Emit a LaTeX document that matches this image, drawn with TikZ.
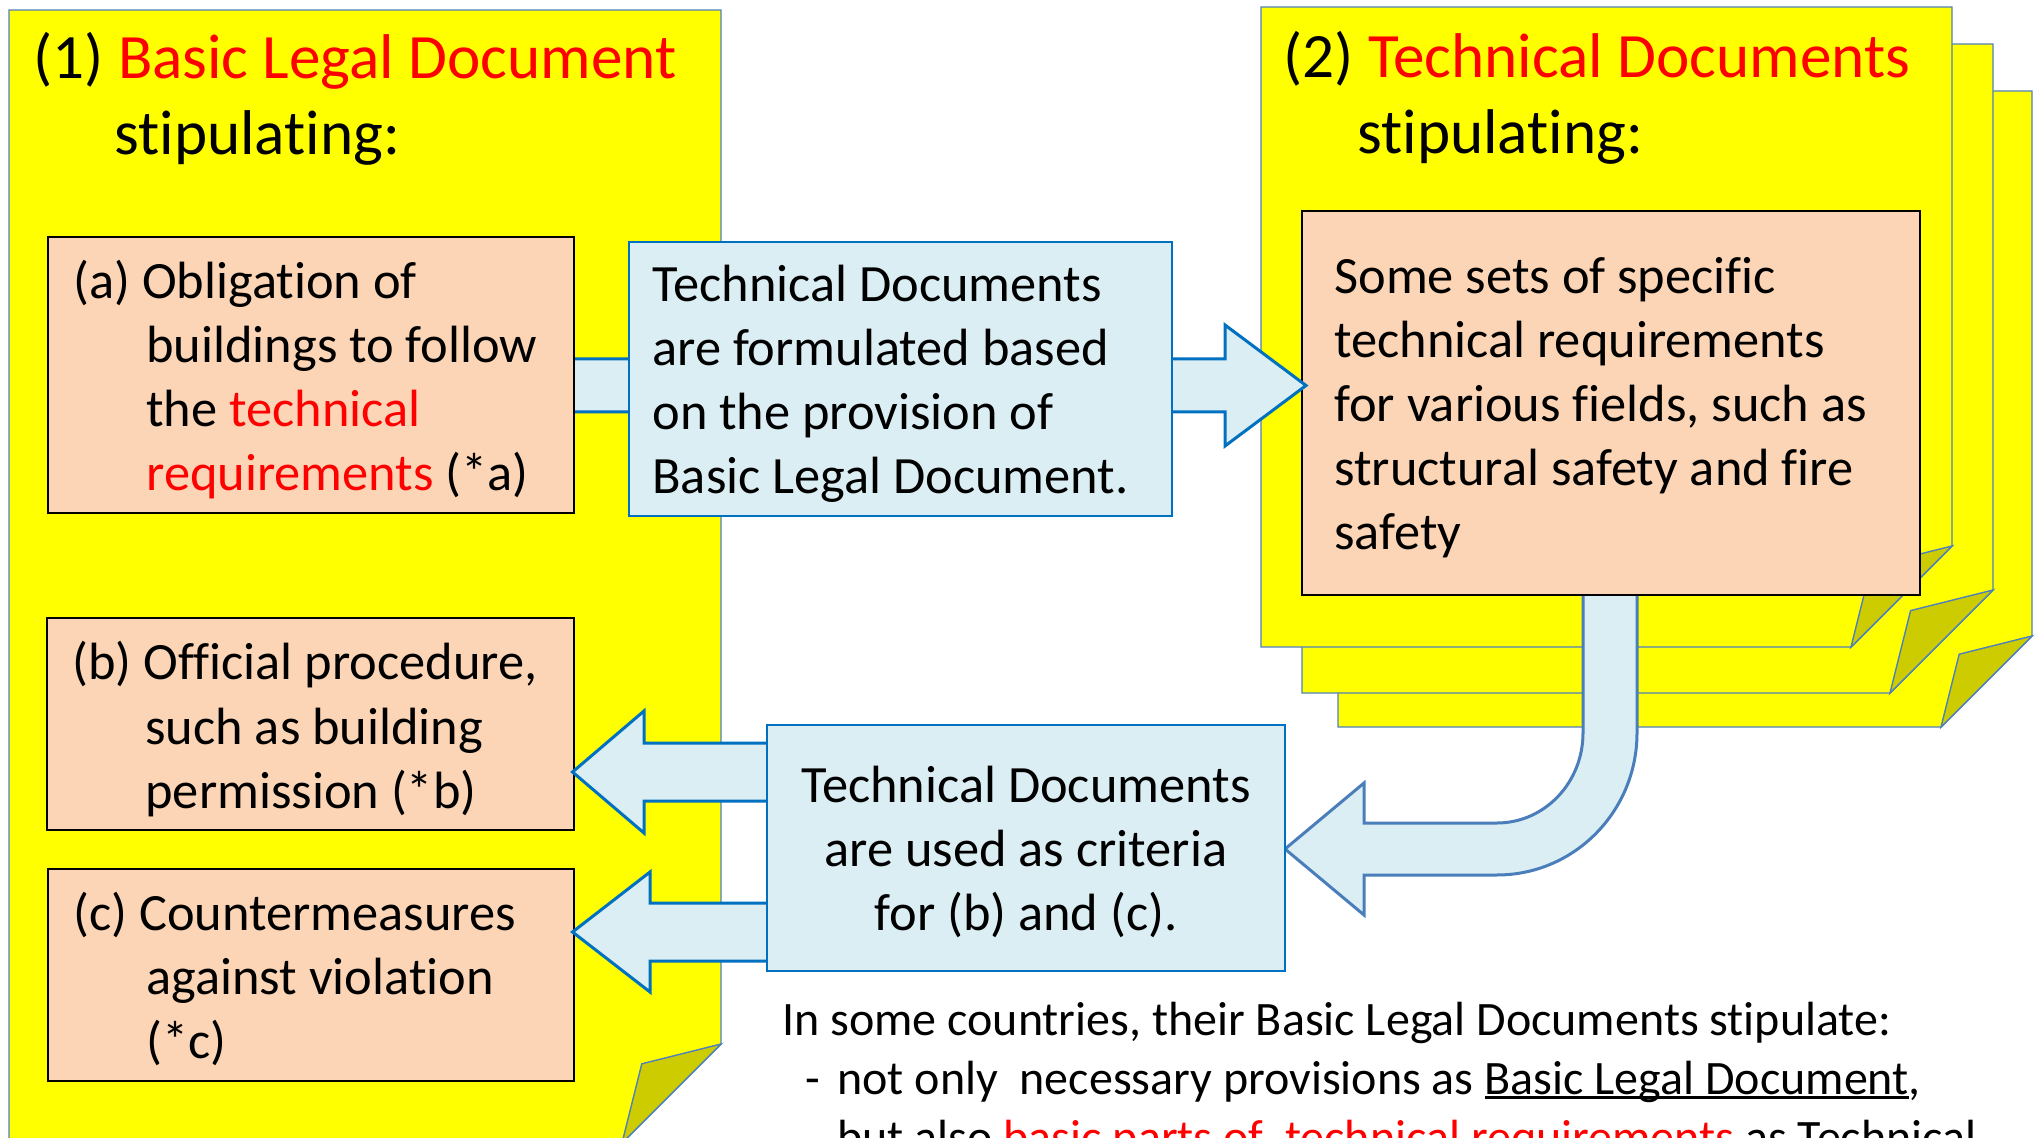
\documentclass[tikz,border=0pt]{standalone}
\usepackage{fontspec}
\setmainfont{Carlito}[Ligatures=NoCommon]
\usetikzlibrary{fit,calc}
\definecolor{docyellow}{HTML}{FFFF00}
\definecolor{docline}{HTML}{4F81BD}
\definecolor{foldcol}{HTML}{CCCC00}
\definecolor{peach}{HTML}{FBD5B5}
\definecolor{lblue}{HTML}{DBEEF4}
\definecolor{bborder}{HTML}{0070C0}
\definecolor{cborder}{HTML}{4A7EBB}
\newcommand\titlefont{\fontsize{31.6}{38}\selectfont}
\newcommand\boxfont{\fontsize{26.2}{32}\selectfont}
\newcommand\notefont{\fontsize{24}{29.5}\selectfont}
\newcommand\myul[1]{\setbox0\hbox{#1}\rlap{\rule[-2.6pt]{\wd0}{1.5pt}}#1}
\newcommand\foldpage[5]{%
  \filldraw[page] (#1,#2) -- (#3,#2) -- (#3,#4-#5) -- (#3-#5,#4) -- (#1,#4) -- cycle;
  \filldraw[fold] (#3,#4-#5) -- (#3-0.8*#5,#4-0.8*#5) -- (#3-#5,#4) -- cycle;}
\newcommand\blockarrow[6]{%
  \filldraw[barrow] (#1,#4-#5) -- (#2,#4-#5) -- (#2,#4-#6) -- (#3,#4) -- (#2,#4+#6) -- (#2,#4+#5) -- (#1,#4+#5) -- cycle;}
\tikzset{
  page/.style={fill=docyellow, draw=docline, line width=0.7pt, line join=miter},
  fold/.style={fill=foldcol, draw=docline, line width=0.7pt, line join=miter},
  obox/.style={fill=peach, draw=black, line width=1.3pt, inner sep=0pt},
  bbox/.style={fill=lblue, draw=bborder, line width=1.3pt, inner sep=0pt},
  barrow/.style={fill=lblue, draw=bborder, line width=1.5pt, line join=miter},
  carrow/.style={fill=lblue, draw=cborder, line width=1.5pt, line join=miter},
  tline/.style={anchor=base west, inner sep=0pt, font=\boxfont},
  cline/.style={anchor=base, inner sep=0pt, font=\boxfont},
  ttl/.style={anchor=base west, inner sep=0pt, font=\titlefont},
  note/.style={anchor=base west, inner sep=0pt, font=\notefont},
}
\begin{document}
\begin{tikzpicture}[x=0.5pt,y=-0.5pt]
\useasboundingbox (0,0) rectangle (2040,1138);
\clip (0,0) rectangle (2040,1138);
\fill[white] (0,0) rectangle (2040,1138);

% pages
\foldpage{9}{10}{721}{1143}{99}
\foldpage{1338}{91}{2032}{727}{91}
\foldpage{1302}{44}{1993}{693}{103}
\foldpage{1261}{7}{1952}{647}{101}

% curved arrow from technical requirements to criteria box
\filldraw[carrow] (1583,590) -- (1583,733) .. controls (1583,782.7) and (1544.5,823) .. (1497,823)
  -- (1364,823) -- (1364,783) -- (1285,849) -- (1364,915) -- (1364,875) -- (1497,875)
  .. controls (1574.3,875) and (1637,811.4) .. (1637,733) -- (1637,590) -- cycle;

% (2) contents box
\node[obox, fit={(1302,211) (1920,595)}] (spec) {};
\node[tline] (s1) at (1334,294) {Some sets of specific};
\node[tline] (s2) at (1334,358) {technical requirements};
\node[tline] (s3) at (1334,422) {for various fields, such as};
\node[tline] (s4) at (1334,486) {structural safety and fire};
\node[tline] (s5) at (1334,550) {safety};

% arrow (a) -> (2)
\blockarrow{560}{1225}{1306}{385.5}{26.5}{60.5}

% box (a)
\node[obox, fit={(48,237) (574,513)}] (a) {};
\node[tline] (a1) at (73,299) {(a) Obligation of};
\node[tline] (a2) at (146,363) {buildings to follow};
\node[tline] (a3) at (146,427) {the \textcolor{red}{technical}};
\node[tline] (a4) at (146,491) {\textcolor{red}{requirements} (*a)};

% formulation box
\node[bbox, fit={(629,242) (1172,516)}] (formbox) {};
\node[tline] (f1) at (652,302) {Technical Documents};
\node[tline] (f2) at (652,366) {are formulated based};
\node[tline] (f3) at (652,430) {on the provision of};
\node[tline] (f4) at (652,494) {Basic Legal Document.};

% boxes (b) and (c)
\node[obox, fit={(47,618) (574,830)}] (b) {};
\node[tline] (b1) at (72,680) {(b) Official procedure,};
\node[tline] (b2) at (145,744) {such as building};
\node[tline] (b3) at (145,808) {permission (*b)};
\node[obox, fit={(48,869) (574,1081)}] (c) {};
\node[tline] (c1) at (73,930) {(c) Countermeasures};
\node[tline] (c2) at (146,994) {against violation};
\node[tline] (c3) at (146,1058) {(*c)};

% arrows criteria -> (b), (c)
\blockarrow{800}{644}{572.5}{772}{29}{61}
\blockarrow{800}{650}{572.5}{932}{29}{60}

% criteria box
\node[bbox, fit={(767,725) (1285,971)}] (critbox) {};
\node[cline] (k1) at (1026,802) {Technical Documents};
\node[cline] (k2) at (1026,866) {are used as criteria};
\node[cline] (k3) at (1026,930) {for (b) and (c).};

% titles
\node[ttl] (t1a) at (33,79) {(1) \textcolor{red}{Basic Legal Document}};
\node[ttl] (t1b) at (114,155) {stipulating:};
\node[ttl] (t2a) at (1283,78) {(2) \textcolor{red}{Technical Documents}};
\node[ttl] (t2b) at (1357,154) {stipulating:};

% note
\node[note] (n1) at (782,1035) {In some countries, their Basic Legal Documents stipulate:};
\node[note] (n2d) at (805,1094) {-};
\node[note] (n2) at (837,1094) {not only~ necessary provisions as \myul{Basic Legal Document},};
\node[note] (n3) at (837,1153) {but also \textcolor{red}{basic parts of~ technical requirements} as Technical};
\end{tikzpicture}
\end{document}
